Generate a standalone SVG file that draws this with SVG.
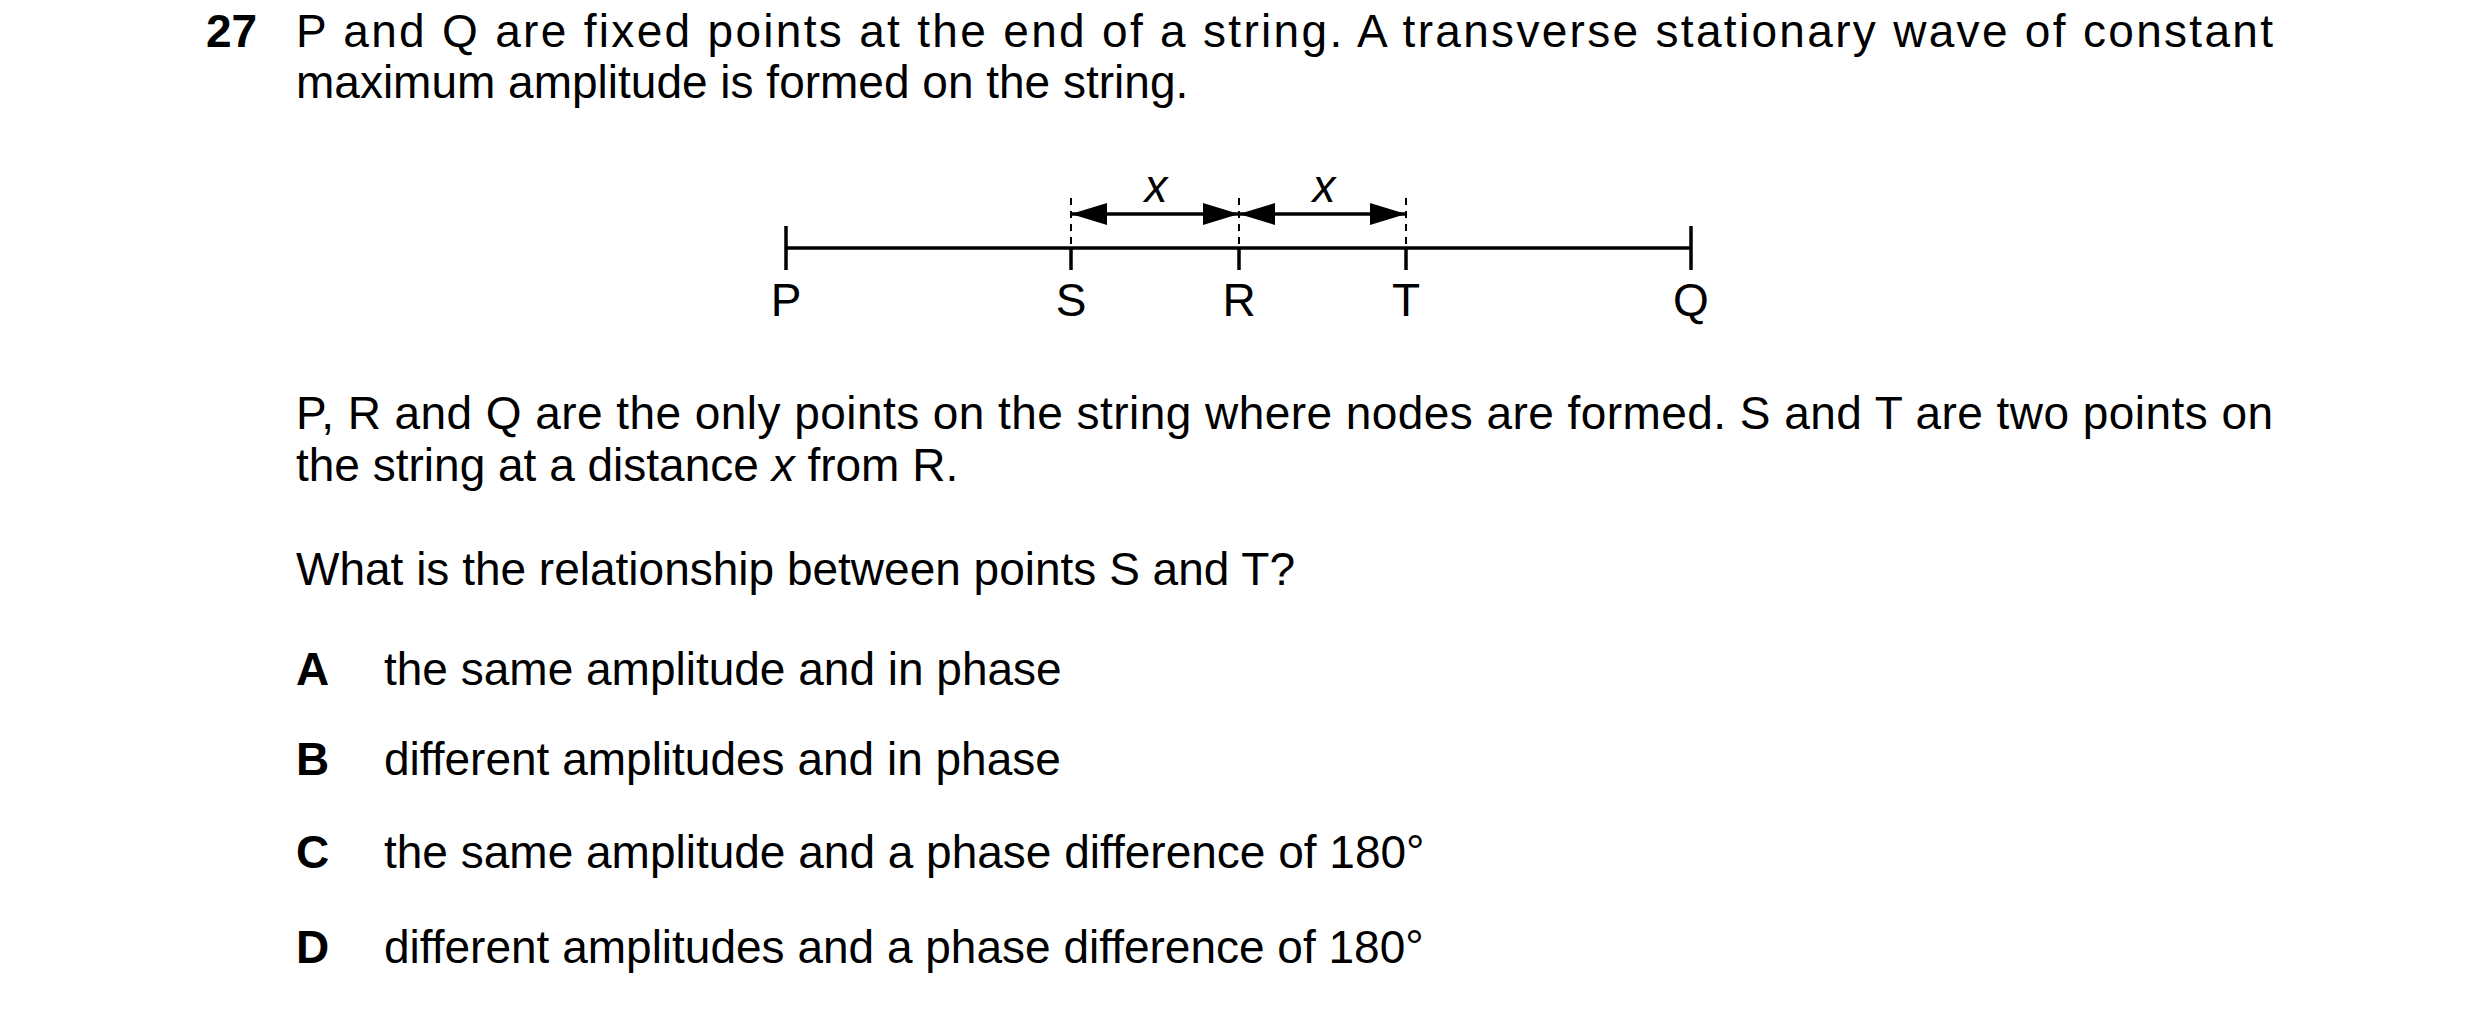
<svg xmlns="http://www.w3.org/2000/svg" width="2480" height="1010" viewBox="0 0 2480 1010">
<style>
text{font-family:"Liberation Sans",Arial,sans-serif;font-size:46px;fill:#000}
.b{font-weight:bold}
.l{text-anchor:middle}
.ln{stroke:#000;stroke-width:3.5;fill:none}
.d{stroke:#000;stroke-width:2;stroke-dasharray:7,6;fill:none}
</style>
<defs>
<marker id="ah" viewBox="0 0 36 22" refX="36" refY="11" markerWidth="36" markerHeight="22" markerUnits="userSpaceOnUse" orient="auto-start-reverse"><path d="M0,0L36,11L0,22Z" fill="#000"/></marker>
</defs>
<rect width="2480" height="1010" fill="#fff"/>
<text class="b" x="206" y="47">27</text>
<text x="296" y="47" textLength="1977" lengthAdjust="spacing">P and Q are fixed points at the end of a string. A transverse stationary wave of constant</text>
<text x="296" y="98">maximum amplitude is formed on the string.</text>
<g id="string">
<line class="ln" x1="786" y1="248" x2="1691" y2="248"/>
<line class="ln" x1="786" y1="226" x2="786" y2="270"/>
<line class="ln" x1="1691" y1="226" x2="1691" y2="270"/>
<line class="ln" x1="1071" y1="248" x2="1071" y2="270"/>
<line class="ln" x1="1239" y1="248" x2="1239" y2="270"/>
<line class="ln" x1="1406" y1="248" x2="1406" y2="270"/>
<line class="d" x1="1071" y1="198" x2="1071" y2="248"/>
<line class="d" x1="1239" y1="198" x2="1239" y2="248"/>
<line class="d" x1="1406" y1="198" x2="1406" y2="248"/>
</g>
<g id="connectors">
<line class="ln" x1="1071" y1="214" x2="1239" y2="214" marker-start="url(#ah)" marker-end="url(#ah)"/>
<line class="ln" x1="1239" y1="214" x2="1406" y2="214" marker-start="url(#ah)" marker-end="url(#ah)"/>
</g>
<g id="labels">
<text class="l" x="1156" y="202" font-style="italic">x</text>
<text class="l" x="1324" y="202" font-style="italic">x</text>
<text class="l" x="786" y="316">P</text>
<text class="l" x="1071" y="316">S</text>
<text class="l" x="1239" y="316">R</text>
<text class="l" x="1406" y="316">T</text>
<text class="l" x="1691" y="316">Q</text>
</g>
<text x="296" y="429" textLength="1977" lengthAdjust="spacing">P, R and Q are the only points on the string where nodes are formed. S and T are two points on</text>
<text x="296" y="481">the string at a distance <tspan font-style="italic">x</tspan> from R.</text>
<text x="296" y="585">What is the relationship between points S and T?</text>
<text class="b" x="296" y="685">A</text><text x="384" y="685">the same amplitude and in phase</text>
<text class="b" x="296" y="775">B</text><text x="384" y="775">different amplitudes and in phase</text>
<text class="b" x="296" y="868">C</text><text x="384" y="868">the same amplitude and a phase difference of 180°</text>
<text class="b" x="296" y="963">D</text><text x="384" y="963">different amplitudes and a phase difference of 180°</text>
</svg>
